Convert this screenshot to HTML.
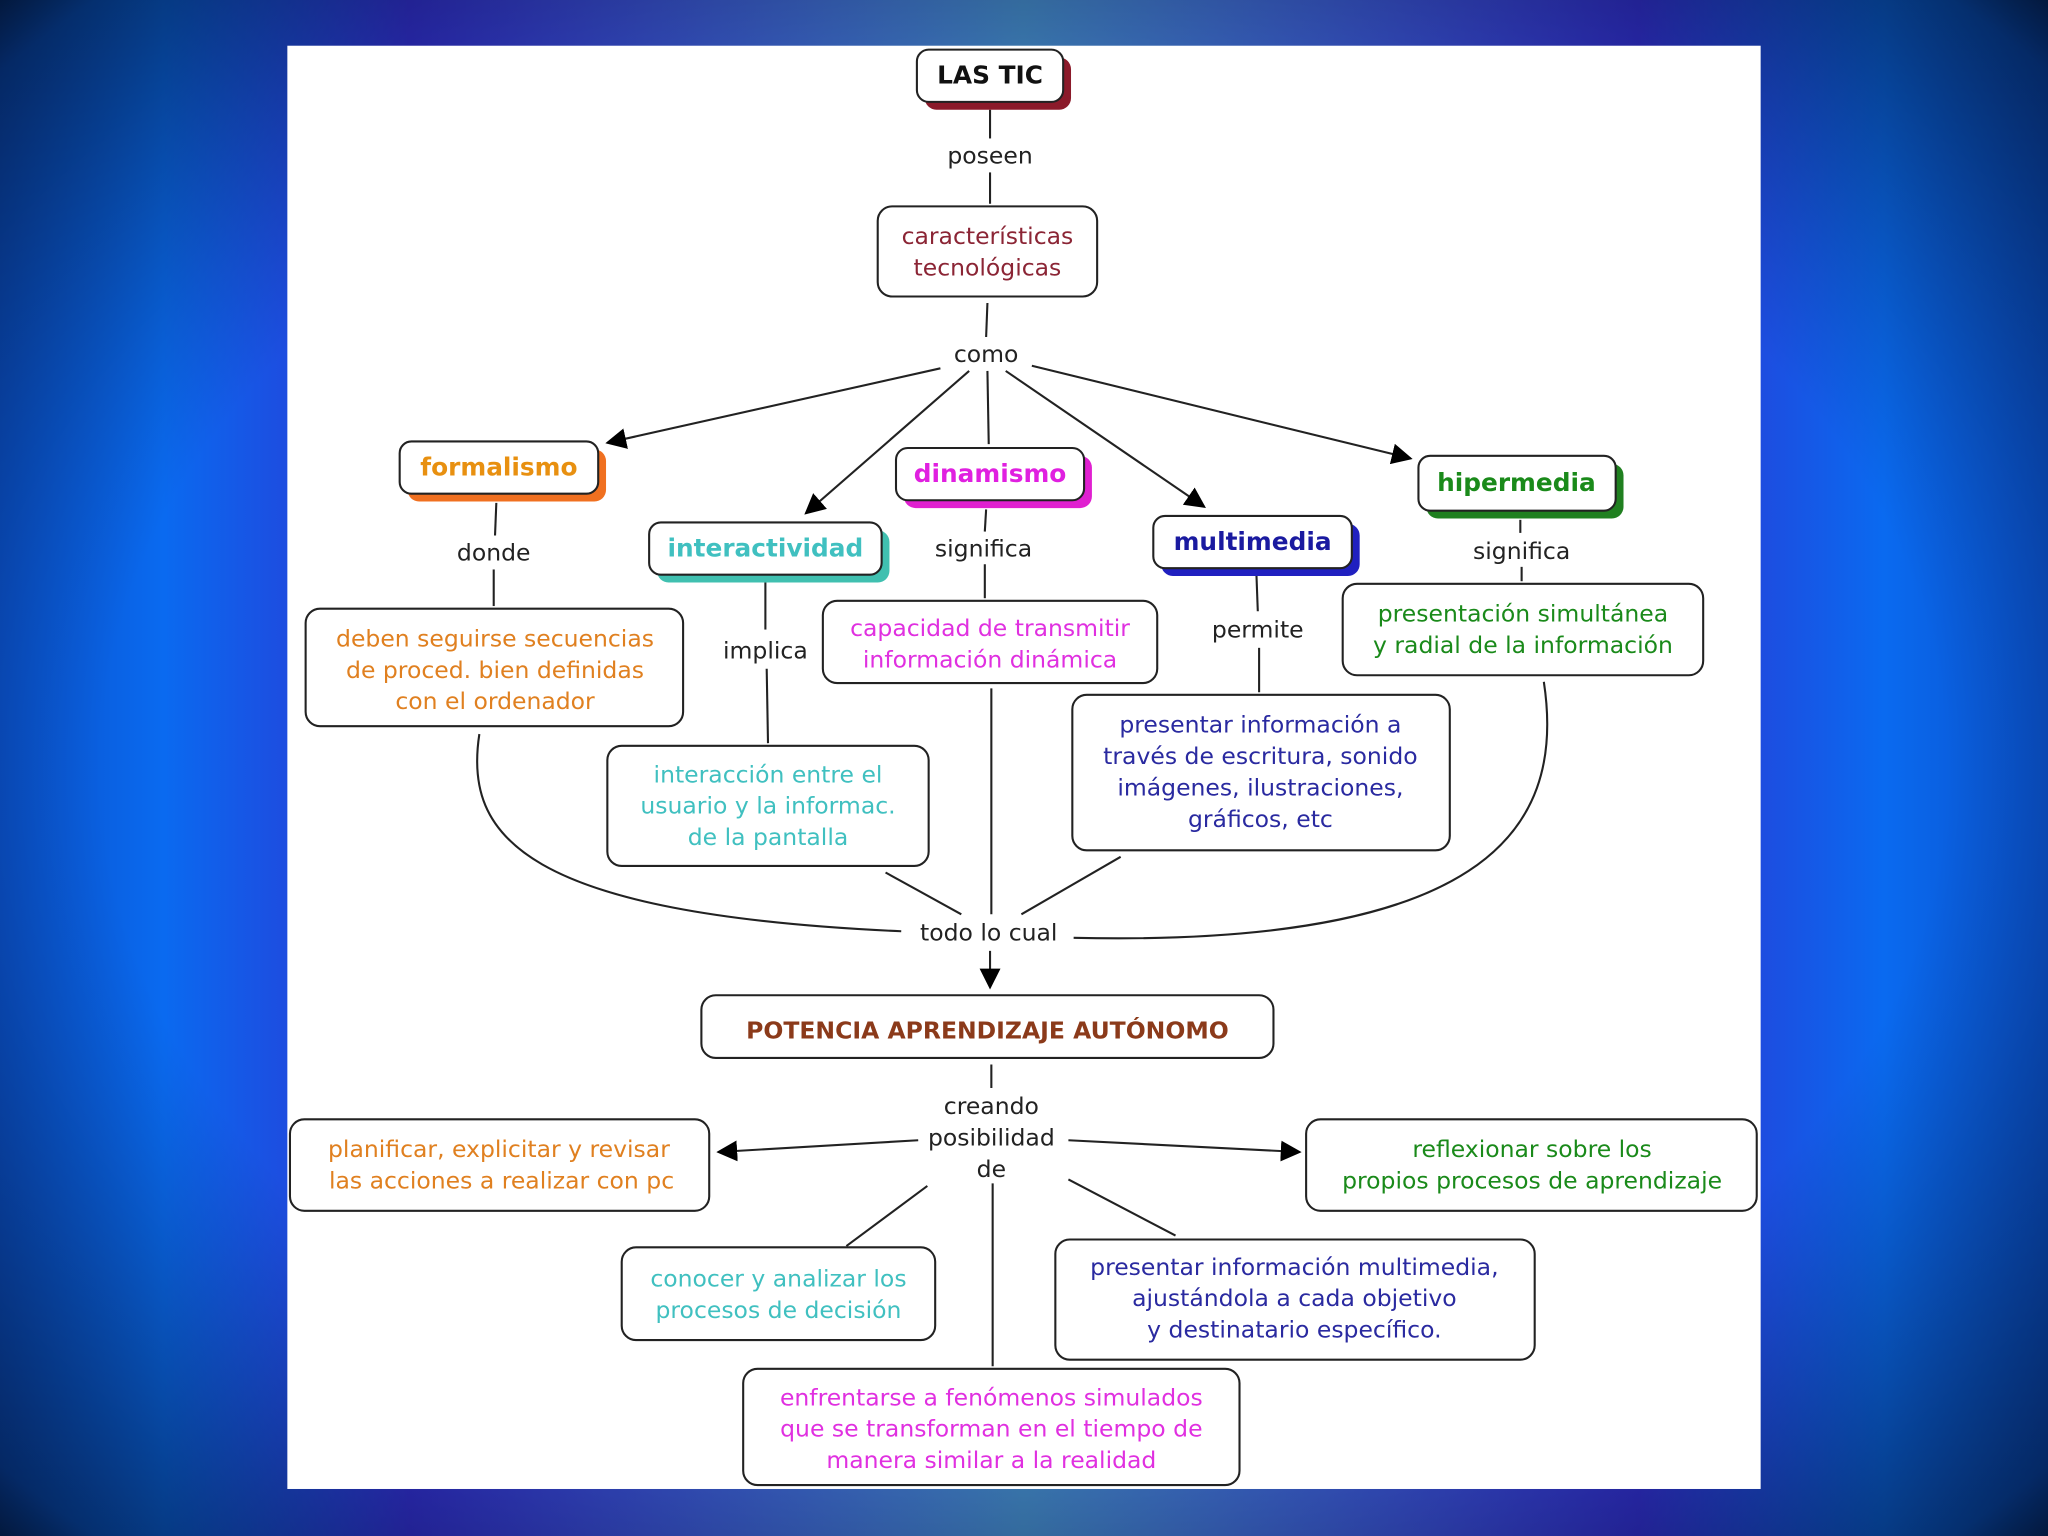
<!DOCTYPE html>
<html><head><meta charset="utf-8"><style>
html,body{margin:0;padding:0;width:2048px;height:1536px;overflow:hidden;background:#000}
svg{display:block}
text{font-family:"DejaVu Sans","Liberation Sans",sans-serif}
</style></head><body>
<svg width="2048" height="1536" viewBox="0 0 1568 1176" xmlns="http://www.w3.org/2000/svg">
<defs>
<linearGradient id="bg" x1="0" y1="0" x2="1" y2="0">
<stop offset="0" stop-color="#0a50c8"/><stop offset="0.08" stop-color="#0a6af0"/><stop offset="0.2" stop-color="#3030d0"/><stop offset="0.5" stop-color="#3a78b0"/><stop offset="0.8" stop-color="#3030d0"/><stop offset="0.92" stop-color="#0a6af0"/><stop offset="1" stop-color="#0a50c8"/>
</linearGradient>
<radialGradient id="vig" cx="0.5" cy="0.5" r="0.75">
<stop offset="0.6" stop-color="#000" stop-opacity="0"/><stop offset="0.9" stop-color="#000" stop-opacity="0.5"/><stop offset="1" stop-color="#000" stop-opacity="0.95"/>
</radialGradient>
<marker id="ar" viewBox="0 0 10 10" refX="9" refY="5" markerWidth="16" markerHeight="16" markerUnits="userSpaceOnUse" orient="auto"><path d="M0,0 L10,5 L0,10 z" fill="#000"/></marker>
</defs>
<rect width="1568" height="1176" fill="url(#bg)"/>
<rect width="1568" height="1176" fill="url(#vig)"/>
<rect x="220" y="35" width="1128" height="1105" fill="#fff"/>

<g stroke="#222" stroke-width="1.6" fill="none">
<line x1="758" y1="84" x2="758" y2="106"/><line x1="758" y1="132" x2="758" y2="156"/>
<line x1="756" y1="232" x2="755" y2="258"/>
<line x1="720" y1="282" x2="465" y2="339" marker-end="url(#ar)"/>
<line x1="742" y1="284" x2="617" y2="393" marker-end="url(#ar)"/>
<line x1="756" y1="284" x2="757" y2="340"/>
<line x1="770" y1="284" x2="922" y2="388" marker-end="url(#ar)"/>
<line x1="790" y1="280" x2="1080" y2="351" marker-end="url(#ar)"/>
<line x1="380" y1="385" x2="379" y2="410"/><line x1="378" y1="436" x2="378" y2="464"/>
<line x1="755" y1="390" x2="754" y2="407"/><line x1="754" y1="432" x2="754" y2="458"/>
<line x1="586" y1="446" x2="586" y2="482"/><line x1="587" y1="512" x2="588" y2="569"/>
<line x1="962" y1="441" x2="963" y2="468"/><line x1="964" y1="496" x2="964" y2="530"/>
<line x1="1164" y1="398" x2="1164" y2="408"/><line x1="1165" y1="434" x2="1165" y2="445"/>
<path d="M367,562 C355,640 400,700 690,713"/>
<path d="M1182,522 C1200,640 1130,725 822,718"/>
<line x1="678" y1="668" x2="736" y2="700"/>
<line x1="858" y1="656" x2="782" y2="700"/>
<line x1="759" y1="527" x2="759" y2="700"/>
<line x1="758" y1="728" x2="758" y2="756" marker-end="url(#ar)"/>
<line x1="759" y1="815" x2="759" y2="833"/>
<line x1="703" y1="873" x2="550" y2="882" marker-end="url(#ar)"/>
<line x1="818" y1="873" x2="995" y2="882" marker-end="url(#ar)"/>
<line x1="710" y1="908" x2="648" y2="954"/>
<line x1="818" y1="903" x2="900" y2="946"/>
<line x1="760" y1="906" x2="760" y2="1046"/>
</g>

<g stroke="#222" stroke-width="1.6">
<rect x="708" y="44" width="112" height="40" rx="9" fill="#8b1a2a" stroke="none"/>
<rect x="702" y="38" width="112" height="40" rx="9" fill="#fff"/>
<rect x="672" y="158" width="168" height="69" rx="11" fill="#fff"/>
<rect x="312" y="344" width="152" height="40" rx="9" fill="#f07020" stroke="none"/>
<rect x="306" y="338" width="152" height="40" rx="9" fill="#fff"/>
<rect x="503" y="406" width="178" height="40" rx="9" fill="#40c0b0" stroke="none"/>
<rect x="497" y="400" width="178" height="40" rx="9" fill="#fff"/>
<rect x="692" y="349" width="144" height="40" rx="9" fill="#e020d0" stroke="none"/>
<rect x="686" y="343" width="144" height="40" rx="9" fill="#fff"/>
<rect x="889" y="401" width="152" height="40" rx="9" fill="#2020c0" stroke="none"/>
<rect x="883" y="395" width="152" height="40" rx="9" fill="#fff"/>
<rect x="1092" y="355" width="151" height="42" rx="9" fill="#208020" stroke="none"/>
<rect x="1086" y="349" width="151" height="42" rx="9" fill="#fff"/>
<rect x="234" y="466" width="289" height="90" rx="11" fill="#fff"/>
<rect x="630" y="460" width="256" height="63" rx="11" fill="#fff"/>
<rect x="1028" y="447" width="276" height="70" rx="11" fill="#fff"/>
<rect x="465" y="571" width="246" height="92" rx="11" fill="#fff"/>
<rect x="821" y="532" width="289" height="119" rx="11" fill="#fff"/>
<rect x="537" y="762" width="438" height="48" rx="11" fill="#fff"/>
<rect x="222" y="857" width="321" height="70" rx="11" fill="#fff"/>
<rect x="1000" y="857" width="345" height="70" rx="11" fill="#fff"/>
<rect x="476" y="955" width="240" height="71" rx="11" fill="#fff"/>
<rect x="808" y="949" width="367" height="92" rx="11" fill="#fff"/>
<rect x="569" y="1048" width="380" height="89" rx="11" fill="#fff"/>
</g>

<g text-anchor="middle" font-size="18">
<text x="758" y="64" font-weight="bold" font-size="19" fill="#111">LAS TIC</text>
<text x="756" y="187" fill="#8b2535">características</text>
<text x="756" y="211" fill="#8b2535">tecnológicas</text>
<text x="382" y="364" font-weight="bold" font-size="19" fill="#e89010">formalismo</text>
<text x="586" y="426" font-weight="bold" font-size="19" fill="#40c0c0">interactividad</text>
<text x="758" y="369" font-weight="bold" font-size="19" fill="#e020e0">dinamismo</text>
<text x="959" y="421" font-weight="bold" font-size="19" fill="#1a1aa0">multimedia</text>
<text x="1161" y="376" font-weight="bold" font-size="19" fill="#1a8a1a">hipermedia</text>
<g fill="#e08020"><text x="379" y="495">deben seguirse secuencias</text><text x="379" y="519">de proced. bien definidas</text><text x="379" y="543">con el ordenador</text></g>
<g fill="#e030e0"><text x="758" y="487">capacidad de transmitir</text><text x="758" y="511">información dinámica</text></g>
<g fill="#1a8a1a"><text x="1166" y="476">presentación simultánea</text><text x="1166" y="500">y radial de la información</text></g>
<g fill="#40c0c0"><text x="588" y="599">interacción entre el</text><text x="588" y="623">usuario y la informac.</text><text x="588" y="647">de la pantalla</text></g>
<g fill="#2a2aa0"><text x="965" y="561">presentar información a</text><text x="965" y="585">través de escritura, sonido</text><text x="965" y="609">imágenes, ilustraciones,</text><text x="965" y="633">gráficos, etc</text></g>
<text x="756" y="795" font-weight="bold" fill="#8b3a1a">POTENCIA APRENDIZAJE AUTÓNOMO</text>
<g fill="#e08020"><text x="382" y="886">planificar, explicitar y revisar</text><text x="384" y="910">las acciones a realizar con pc</text></g>
<g fill="#1a8a1a"><text x="1173" y="886">reflexionar sobre los</text><text x="1173" y="910">propios procesos de aprendizaje</text></g>
<g fill="#40c0c0"><text x="596" y="985">conocer y analizar los</text><text x="596" y="1009">procesos de decisión</text></g>
<g fill="#2a2aa0"><text x="991" y="976">presentar información multimedia,</text><text x="991" y="1000">ajustándola a cada objetivo</text><text x="991" y="1024">y destinatario específico.</text></g>
<g fill="#e030e0"><text x="759" y="1076">enfrentarse a fenómenos simulados</text><text x="759" y="1100">que se transforman en el tiempo de</text><text x="759" y="1124">manera similar a la realidad</text></g>
<g fill="#222">
<text x="758" y="125">poseen</text><text x="755" y="277">como</text><text x="378" y="429">donde</text>
<text x="753" y="426">significa</text><text x="586" y="504">implica</text><text x="963" y="488">permite</text>
<text x="1165" y="428">significa</text><text x="757" y="720">todo lo cual</text>
<text x="759" y="853">creando</text><text x="759" y="877">posibilidad</text><text x="759" y="901">de</text>
</g>
</g>
</svg>
</body></html>
